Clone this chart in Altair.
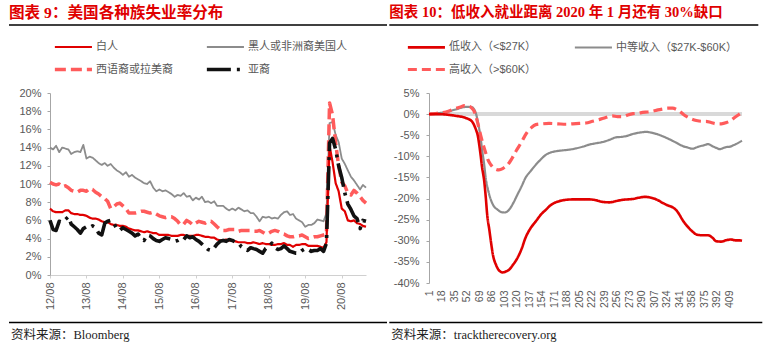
import altair as alt
import pandas as pd

# ---------------- left panel: US unemployment rate by race (%) ----------------
month_start = "2012-08-01"
n_months = 105  # 2012-08 .. 2021-04

white_rate = [
    7.3, 7.0, 6.9, 6.9, 6.9,
    7.1, 7.1, 6.8, 6.7, 6.7, 6.6, 6.6, 6.5, 6.3, 6.2, 6.2, 6.1,
    5.9, 5.8, 5.8, 5.6, 5.5, 5.5, 5.4, 5.4, 5.3, 5.1, 5.0, 4.9,
    4.9, 4.8, 4.7, 4.8, 4.7, 4.6, 4.6, 4.4, 4.4, 4.4, 4.4, 4.3,
    4.3, 4.3, 4.4, 4.4, 4.3, 4.3, 4.3, 4.4, 4.4, 4.3, 4.2, 4.2,
    4.1, 4.1, 3.9, 3.8, 3.8, 3.9, 3.8, 3.8, 3.7, 3.6, 3.6, 3.6,
    3.5, 3.5, 3.6, 3.5, 3.4, 3.5, 3.4, 3.4, 3.3, 3.3, 3.4, 3.4,
    3.5, 3.3, 3.3, 3.1, 3.3, 3.3, 3.4, 3.4, 3.2, 3.2, 3.2, 3.2,
    3.1, 3.0, 3.6, 14.2, 12.4, 10.1, 9.2, 7.3, 7.0, 6.0, 5.9, 6.0,
    5.7, 5.6, 5.4, 5.3,
]
black_rate = [
    14.0, 13.8, 14.2, 13.5, 14.0,
    13.9, 13.8, 13.3, 13.5, 13.6, 13.5, 14.3, 12.8, 13.0, 12.9, 12.6, 12.3,
    12.1, 12.3, 12.0, 12.2, 11.8, 11.5, 11.3, 11.0, 11.3, 10.8, 11.0, 10.7,
    10.5, 10.3, 10.1, 10.0, 10.3, 9.6, 9.2, 9.4, 9.2, 9.3, 9.1, 8.9,
    8.6, 8.8, 8.7, 9.0, 8.6, 8.7, 8.2, 8.5, 8.3, 8.6, 8.0, 8.1,
    7.9, 8.1, 7.6, 7.6, 7.6, 7.3, 7.1, 7.3, 7.1, 7.4, 7.2, 7.0,
    7.1, 6.8, 6.8, 6.4, 5.9, 6.4, 6.3, 6.4, 6.2, 6.3, 6.2, 6.6,
    6.9, 7.0, 6.6, 6.7, 6.2, 6.0, 5.8, 5.3, 5.5, 5.5, 5.7, 6.1,
    6.0, 5.9, 6.8, 16.7, 16.8, 15.4, 14.6, 12.8, 12.2, 11.5, 10.8, 10.4,
    9.9, 9.4, 9.9, 9.6,
]
hispanic_rate = [
    10.2, 10.0, 9.9, 10.0, 9.7,
    9.8, 9.6, 9.3, 9.2, 9.1, 9.3, 9.3, 9.2, 9.5, 9.4, 9.1, 8.9,
    8.6, 8.4, 8.1, 7.3, 7.5, 7.8, 7.9, 7.6, 7.3, 6.8, 6.8, 6.8,
    6.9, 7.0, 7.0, 6.9, 6.8, 6.9, 6.7, 6.5, 6.4, 6.3, 6.4, 6.4,
    6.2, 5.9, 5.5, 5.6, 6.0, 5.8, 5.5, 5.7, 5.9, 5.8, 5.7, 5.9,
    5.9, 5.6, 5.3, 5.0, 4.9, 4.9, 5.0, 5.0, 5.0, 4.8, 4.9, 4.9,
    4.9, 4.9, 4.8, 4.8, 4.9, 4.7, 4.5, 4.6, 4.8, 4.9, 4.8, 4.6,
    4.5, 4.3, 4.2, 4.2, 4.3, 4.3, 4.4, 4.2, 4.0, 4.1, 4.2, 4.2,
    4.3, 4.4, 4.5, 18.9, 17.6, 14.5, 12.0, 10.2, 9.8, 9.0, 8.8, 9.3,
    9.0, 8.6, 8.2, 7.9,
]
asian_rate = [
    6.0, 5.0, 4.9, 5.9, 5.8,
    6.1, 6.4, 5.6, 5.3, 5.0, 4.6, 5.1, 5.3, 5.2, 5.4, 5.2, 4.6,
    4.4, 5.7, 5.9, 6.0, 5.7, 5.1, 4.9, 5.2, 5.0, 4.8, 4.6, 4.3,
    4.5, 4.0, 3.8, 4.4, 4.3, 4.0, 3.8, 3.7, 3.9, 4.1, 4.0, 3.9,
    3.7, 3.8, 4.0, 3.9, 4.3, 4.1, 4.2, 3.9, 3.7, 3.4, 3.1, 2.8,
    2.7, 3.0, 3.4, 3.7, 3.8, 3.7, 3.9, 3.8, 3.6, 3.5, 3.1, 2.9,
    2.7, 3.0, 2.9, 2.8, 2.6, 2.4, 2.9, 3.1, 3.5, 3.0, 2.8, 2.9,
    3.2, 2.9, 2.6, 2.5, 2.4, 2.4, 2.7, 2.9, 2.8, 2.6, 2.7, 2.7,
    2.9, 2.6, 3.5, 14.5, 15.0, 13.8, 12.0, 10.7, 9.0, 7.8, 7.2, 6.5,
    6.2, 5.1, 6.0, 5.9,
]
left_series = ["白人", "黑人或非洲裔美国人", "西语裔或拉美裔", "亚裔"]
left_tick_years = [2012, 2013, 2014, 2015, 2016, 2017, 2018, 2019, 2020]
left_y_ticks = [0, 2, 4, 6, 8, 10, 12, 14, 16, 18, 20]

# ---------------- right panel: employment vs Jan 2020 (%) ----------------
low_day = [1, 12, 24, 37, 49, 55, 58, 62, 65, 67, 69, 71, 73, 76, 78, 80, 83, 85, 88, 92,
           96, 101, 105, 110, 115, 121, 127, 132, 139, 146, 153, 160, 166, 173, 180, 187,
           196, 210, 219, 228, 237, 246, 255, 264, 271, 278, 286, 294, 300, 305, 312, 318,
           325, 332, 337, 341, 345, 350, 355, 360, 364, 372, 380, 386, 391, 398, 404, 411,
           417, 422, 426]
low_val = [0.0, 0.0, -0.1, -0.4, -0.8, -1.2, -1.5, -2.5, -3.8, -4.9, -7.0, -9.6, -12.5, -15.9,
           -19.5, -23.8, -27.5, -30.1, -33.5, -35.7, -37.0, -37.5, -37.3, -36.8, -35.7, -34.1,
           -31.8, -29.3, -27.0, -25.4, -23.8, -22.6, -21.6, -20.9, -20.5, -20.3, -20.2, -20.2,
           -20.2, -20.4, -20.8, -20.9, -20.6, -20.3, -20.2, -20.1, -19.8, -19.6, -19.7, -19.9,
           -20.4, -21.0, -21.6, -22.1, -22.8, -23.8, -25.0, -26.2, -27.2, -28.0, -28.5, -28.7,
           -28.7, -29.3, -30.1, -30.2, -29.9, -29.7, -29.9, -29.9, -30.0]
mid_day = [1, 12, 24, 37, 51, 57, 60, 63, 65, 67, 69, 71, 73, 76, 78, 81, 85, 89, 94, 99, 104,
           110, 115, 121, 127, 132, 139, 146, 153, 160, 166, 173, 182, 192, 201, 210, 219, 228,
           237, 246, 255, 262, 269, 276, 283, 290, 296, 303, 310, 319, 328, 337, 346, 352, 359,
           364, 369, 374, 380, 386, 391, 396, 401, 405, 410, 414, 420, 426]
mid_val = [0.0, 0.2, 0.5, 1.1, 1.7, 1.7, 1.6, 0.9, 0.0, -1.5, -3.3, -5.5, -8.3, -12.0, -15.1,
           -17.8, -20.3, -21.8, -22.6, -23.2, -23.3, -22.6, -21.2, -19.1, -17.0, -15.1, -13.5,
           -12.0, -10.7, -9.6, -9.1, -8.8, -8.6, -8.4, -8.1, -7.7, -7.2, -6.9, -6.6, -6.1, -5.5,
           -5.4, -5.2, -4.8, -4.5, -4.3, -4.2, -4.4, -4.7, -5.3, -6.0, -6.8, -7.6, -7.9, -8.2,
           -7.9, -7.6, -7.4, -7.1, -7.6, -8.0, -8.3, -8.0, -7.8, -7.7, -7.4, -6.9, -6.3]
high_day = [1, 12, 24, 37, 44, 49, 54, 58, 62, 64, 67, 71, 75, 78, 81, 85, 90, 96, 101, 105,
            110, 114, 120, 126, 131, 135, 140, 146, 155, 164, 176, 187, 196, 205, 214, 223, 232,
            241, 250, 257, 264, 271, 278, 285, 291, 298, 305, 312, 318, 325, 332, 337, 341, 346,
            350, 357, 364, 371, 377, 384, 391, 398, 405, 411, 416, 421, 426]
high_val = [0.0, 0.2, 0.5, 1.3, 1.7, 2.0, 1.9, 1.6, 0.8, -0.1, -2.0, -4.9, -7.5, -9.2, -10.8,
            -12.0, -12.9, -13.2, -12.9, -12.4, -11.5, -10.4, -8.5, -6.8, -5.2, -4.1, -3.2, -2.5,
            -2.3, -2.2, -2.3, -2.4, -2.3, -2.2, -2.1, -1.7, -1.3, -0.8, -0.4, -0.6, -0.6, -0.2,
            0.1, 0.2, 0.4, 0.5, 0.7, 1.0, 1.2, 1.4, 1.4, 1.1, 0.7, 0.0, -0.5, -1.1, -1.5, -1.7,
            -1.7, -2.0, -2.3, -2.3, -2.0, -1.5, -0.8, -0.2, 0.4]
right_series = ["低收入（<$27K）", "中等收入（$27K-$60K）", "高收入（>$60K）"]
right_x_ticks = [1, 18, 35, 52, 69, 86, 103, 120, 137, 154, 171, 188, 205, 222, 239, 256,
                 273, 290, 307, 324, 341, 358, 375, 392, 409]
right_x_min, right_x_max = 1, 426
right_y_ticks = [5, 0, -5, -10, -15, -20, -25, -30, -35, -40]

left_title = "图表 9：美国各种族失业率分布"
right_title = "图表 10：低收入就业距离 2020 年 1 月还有 30%缺口"
left_source = "资料来源：Bloomberg"
right_source = "资料来源：tracktherecovery.org"

# ---------------- styling ----------------
SANS = "Liberation Sans, Noto Sans CJK SC"
SERIF = "Liberation Serif, Noto Sans CJK SC"
LABEL_GRAY = "#595959"
WL, HL = 316, 182
WR, HR = 313, 190

dates = pd.date_range(month_start, periods=n_months, freq="MS").strftime("%Y-%m-%dT00:00:00")
rows = []
for name, vals in [(left_series[1], black_rate), (left_series[2], hispanic_rate),
                   (left_series[0], white_rate), (left_series[3], asian_rate)]:
    for d, v in zip(dates, vals):
        rows.append({"date": d, "rate": v, "race": name})
df_left = pd.DataFrame(rows)

rows = []
for name, xs, vs in [(right_series[1], mid_day, mid_val), (right_series[2], high_day, high_val),
                     (right_series[0], low_day, low_val)]:
    for x, v in zip(xs, vs):
        rows.append({"day": x, "pct": v, "income": name})
df_right = pd.DataFrame(rows)


def legend(x, y, colpad):
    return alt.Legend(title=None, orient="none", legendX=x, legendY=y, columns=2,
                      direction="horizontal",
                      symbolType="M-1,0H7", symbolSize=86, symbolStrokeWidth=3.2,
                      labelOffset=30, labelFont=SANS, labelFontSize=11,
                      labelColor=LABEL_GRAY, columnPadding=colpad, rowPadding=10,
                      labelLimit=400)


def decorations(title, source, x0, x_end_top, x_end_bottom, title_size):
    d = pd.DataFrame({"title": [title], "source": [source]})
    base = alt.Chart(d)
    head = base.mark_text(align="left", baseline="top", font=SERIF, fontSize=title_size,
                          fontWeight="bold", color="#E00000").encode(
        text="title:N", x=alt.value(x0), y=alt.value(-87))
    top_rule = base.mark_rule(color="#000000", strokeWidth=1.5).encode(
        x=alt.value(x0), x2=alt.value(x_end_top), y=alt.value(-68))
    bottom_rule = base.mark_rule(color="#000000", strokeWidth=1.5).encode(
        x=alt.value(x0), x2=alt.value(x_end_bottom), y=alt.value(229.5))
    src = base.mark_text(align="left", baseline="middle", font=SERIF, fontSize=12.5,
                         color="#222222").encode(
        text="source:N", x=alt.value(x0 + 2), y=alt.value(241.5))
    return [head, top_rule, bottom_rule, src]


LEG_L = legend(3, -52, 26)
left_lines = alt.Chart(df_left).mark_line(strokeCap="butt", strokeJoin="round").encode(
    x=alt.X("date:T", title=None,
            scale=alt.Scale(domain=[alt.DateTime(year=2012, month=8, date=1),
                                    alt.DateTime(year=2021, month=4, date=1)]),
            axis=alt.Axis(values=[alt.DateTime(year=y, month=8, date=1) for y in left_tick_years],
                          format="%y/%m", labelAngle=-90, labelPadding=4, tickSize=3,
                          domainColor="#D0D0D0", tickColor="#D0D0D0", labelFontSize=11)),
    y=alt.Y("rate:Q", title=None, scale=alt.Scale(domain=[0, 20]),
            axis=alt.Axis(values=left_y_ticks, labelExpr="datum.value + '%'", tickSize=3,
                          labelPadding=6, domainColor="#A6A6A6", tickColor="#A6A6A6")),
    color=alt.Color("race:N", scale=alt.Scale(domain=left_series,
                                              range=["#E00000", "#8C8C8C", "#FF5B5B", "#111111"]),
                    legend=LEG_L),
    strokeDash=alt.StrokeDash("race:N", scale=alt.Scale(domain=left_series,
                                                        range=[[1, 0], [1, 0], [11, 5], [24, 6, 3, 6]]),
                              legend=LEG_L),
    strokeWidth=alt.StrokeWidth("race:N", scale=alt.Scale(type="ordinal", domain=left_series,
                                                          range=[2.2, 1.8, 3.5, 3.6]),
                                legend=None),
)

left = alt.layer(left_lines, *decorations(left_title, left_source, -41, 337, 337, 15.6)).properties(
    width=WL, height=HL)

X_R = alt.X("day:Q", title=None, scale=alt.Scale(domain=[right_x_min, right_x_max], nice=False),
            axis=alt.Axis(values=right_x_ticks, labelAngle=-90, labelPadding=7, ticks=False,
                          domain=False, labelFontSize=10.5, labelOverlap=False))
Y_R = alt.Y("pct:Q", title=None, scale=alt.Scale(domain=[-40, 5], nice=False),
            axis=alt.Axis(values=right_y_ticks, labelExpr="datum.value + '%'", tickSize=3,
                          labelPadding=7, domainColor="#A6A6A6", tickColor="#A6A6A6",
                          labelOverlap=False))

zero_df = pd.DataFrame({"day": [right_x_min], "day_end": [right_x_max], "pct": [0]})
zero_line = alt.Chart(zero_df).mark_rule(color="#D9D9D9", strokeWidth=4).encode(
    x=X_R, x2="day_end:Q", y=Y_R)

LEG_R = legend(-23, -52, 33)
right_lines = alt.Chart(df_right).mark_line(strokeCap="butt", strokeJoin="round",
                                            interpolate="monotone").encode(
    x=X_R, y=Y_R,
    color=alt.Color("income:N", scale=alt.Scale(domain=right_series,
                                                range=["#E00000", "#8C8C8C", "#FF5B5B"]),
                    legend=LEG_R),
    strokeDash=alt.StrokeDash("income:N", scale=alt.Scale(domain=right_series,
                                                          range=[[1, 0], [1, 0], [9, 5]]),
                              legend=LEG_R),
    strokeWidth=alt.StrokeWidth("income:N", scale=alt.Scale(type="ordinal", domain=right_series,
                                                            range=[2.6, 2.2, 3.2]),
                                legend=None),
)

right = alt.layer(zero_line, right_lines,
                  *decorations(right_title, right_source, -39.7, 329.3, 333.3, 14.5)).properties(
    width=WR, height=HR)

chart = alt.hconcat(left, right, spacing=0).resolve_scale(
    color="independent", strokeDash="independent", strokeWidth="independent"
).properties(
    padding={"left": 8, "top": 5, "right": 5, "bottom": 5},
    background="#FFFFFF",
).configure_view(stroke=None).configure_axis(
    labelFont="Liberation Sans", labelFontSize=11, labelColor=LABEL_GRAY, grid=False
)

chart.save("out.html", embed_options={"renderer": "svg", "actions": False})
